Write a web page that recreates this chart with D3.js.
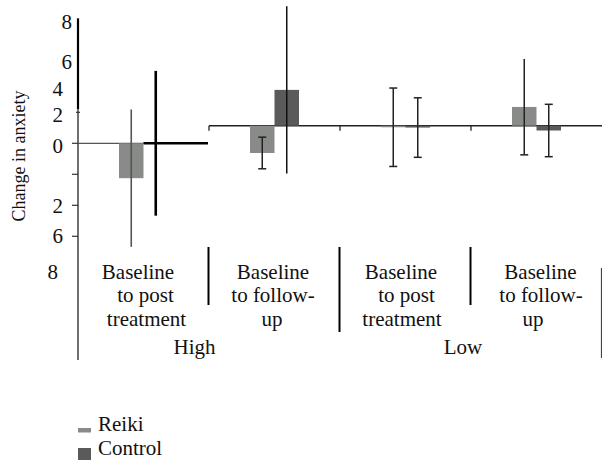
<!DOCTYPE html>
<html>
<head>
<meta charset="utf-8">
<script src="https://cdn.jsdelivr.net/npm/d3@7"></script>
<style>
  html, body { margin: 0; padding: 0; background: #fff; }
  svg { display: block; }
</style>
</head>
<body>
<svg id="chart" width="602" height="463" font-family="'Liberation Serif', 'DejaVu Serif', serif"></svg>
<script>
// ---------------- data ----------------
const groups = ["High-post", "High-follow", "Low-post", "Low-follow"];
const groupLabelLines = [
  ["Baseline", "to post", "treatment"],
  ["Baseline", "to follow-", "up"],
  ["Baseline", "to post", "treatment"],
  ["Baseline", "to follow-", "up"]
];
const anxietyLevels = ["High", "Low"];
const series = ["Reiki", "Control"];
const reikiMean   = [-2.25, -1.76, -0.1, 1.21];
const reikiErr    = [4.43, 1.02, 2.53, 3.09];
const controlMean = [0.0, 2.31, -0.12, -0.31];
const controlErr  = [4.67, 5.4, 1.92, 1.69];
const yTickValues = [8, 6, 4, 2, 0, -2, -4, -6, -8];
const yTickLabels = ["8", "6", "4", "2", "0", "", "2", "6", "8"];
const yTitle = "Change in anxiety";

// ---------------- layout / style ----------------
const FONT = "'Liberation Serif', 'Times New Roman', 'DejaVu Serif', serif";
const colors = { Reiki: "#898b89", Control: "#5a5a5a" };
const zeroShift = [0, -17.6, -17.6, -17.6];           // baseline of groups 2-4 drawn higher
const tickLabelDy = [3, 12, 8, 3, 3, 0, 1, 0, 5];
const tickLabelX  = [72, 72, 63, 63, 63, 63, 63, 63, 58];
const lineDx = [[-5.5, 2, 3], [-1.5, -1.5, -2.5], [-4.5, 1, -3.5], [4, 4.5, -3.5]];
const levelDx = [-14.5, -8];
const caps = { Reiki: [[0,0],[1,1],[1,1],[0,1]], Control: [[0,0],[0,0],[1,1],[1,1]] };
const errStyle = {
  Reiki:   [{c:"#555", w:1.6}, {c:"#222", w:1.5}, {c:"#222", w:1.5}, {c:"#222", w:1.5}],
  Control: [{c:"#000", w:2.6}, {c:"#111", w:1.5}, {c:"#222", w:1.5}, {c:"#222", w:1.5}]
};

const svg = d3.select("#chart");
const txt = sel => sel.attr("font-family", FONT).attr("fill", "#111");

const x = d3.scaleBand().domain(groups).range([78, 602]);
const bw = x.bandwidth();
const xs = d3.scaleBand().domain(series).range([bw / 2 - 24.5, bw / 2 + 24.5]);
const y = d3.scaleLinear().domain([-8, 8]).range([267.3, 19.3]);
const yG = i => (v => y(v) + zeroShift[i]);

const data = groups.map((g, i) => ({
  g, i,
  vals: [
    { s: "Reiki", m: reikiMean[i], e: reikiErr[i] },
    { s: "Control", m: controlMean[i], e: controlErr[i] }
  ]
}));

// ---- y axis ----
const axX = 78;
svg.append("line").attr("x1", axX).attr("x2", axX)
  .attr("y1", y(8) - 1).attr("y2", y(2.2))
  .attr("stroke", "#000").attr("stroke-width", 2.2);
svg.append("line").attr("x1", axX).attr("x2", axX)
  .attr("y1", y(2.2)).attr("y2", 360)
  .attr("stroke", "#333").attr("stroke-width", 1.4);

[2, 0, -2, -4, -6].forEach(v => {
  svg.append("line").attr("x1", v === 2 ? axX - 2 : axX - 6).attr("x2", axX + (v === 2 ? 2 : 0))
    .attr("y1", y(v)).attr("y2", y(v)).attr("stroke", "#333").attr("stroke-width", 1.2);
});

yTickValues.forEach((v, k) => {
  svg.append("text").call(txt)
    .attr("x", tickLabelX[k]).attr("y", y(v) + tickLabelDy[k])
    .attr("text-anchor", "end").attr("dominant-baseline", "central")
    .attr("font-size", 21).text(yTickLabels[k]);
});

svg.append("text").call(txt)
  .attr("transform", `translate(25,156) rotate(-90)`)
  .attr("text-anchor", "middle").attr("font-size", 18)
  .text(yTitle);

// ---- baselines ----
const g0 = groups[0];
svg.append("line").attr("x1", x(g0)).attr("x2", x(g0) + bw - 1)
  .attr("y1", yG(0)(0)).attr("y2", yG(0)(0)).attr("stroke", "#555").attr("stroke-width", 1.2);
svg.append("line").attr("x1", x(g0) + bw / 2).attr("x2", x(g0) + bw - 1)
  .attr("y1", yG(0)(0)).attr("y2", yG(0)(0)).attr("stroke", "#000").attr("stroke-width", 2.4);
svg.append("line").attr("x1", x(groups[1])).attr("x2", 602)
  .attr("y1", yG(1)(0)).attr("y2", yG(1)(0)).attr("stroke", "#222").attr("stroke-width", 1.5);
groups.slice(1).forEach(g => {
  svg.append("line").attr("x1", x(g)).attr("x2", x(g))
    .attr("y1", yG(1)(0)).attr("y2", yG(1)(0) + 5).attr("stroke", "#222").attr("stroke-width", 1.3);
});

// ---- bars ----
const gg = svg.selectAll("g.grp").data(data).join("g").attr("class", "grp")
  .attr("transform", d => `translate(${x(d.g)},0)`);

gg.each(function(d) {
  const sc = yG(d.i);
  const sel = d3.select(this);
  d.vals.forEach(v => {
    const h = Math.abs(sc(v.m) - sc(0));
    if (h > 0.5) {
      sel.append("rect")
        .attr("x", xs(v.s)).attr("width", xs.bandwidth())
        .attr("y", Math.min(sc(v.m), sc(0))).attr("height", Math.max(h, 1.5))
        .attr("fill", colors[v.s]);
    }
  });
  d.vals.forEach(v => {
    const cx = xs(v.s) + xs.bandwidth() / 2;
    const st = errStyle[v.s][d.i];
    const cp = caps[v.s][d.i];
    const top = sc(v.m + v.e), bot = sc(v.m - v.e);
    sel.append("line").attr("x1", cx).attr("x2", cx).attr("y1", top).attr("y2", bot)
      .attr("stroke", st.c).attr("stroke-width", st.w);
    if (cp[0]) sel.append("line").attr("x1", cx - 4).attr("x2", cx + 4).attr("y1", top).attr("y2", top)
      .attr("stroke", st.c).attr("stroke-width", 1.5);
    if (cp[1]) sel.append("line").attr("x1", cx - 4).attr("x2", cx + 4).attr("y1", bot).attr("y2", bot)
      .attr("stroke", st.c).attr("stroke-width", 1.5);
  });
});

// ---- category axis ----
const catTop = 247;
groups.forEach((g, i) => {
  if (i < groups.length - 1) {
    const sx = x(g) + bw - 0.5;
    svg.append("line").attr("x1", sx).attr("x2", sx)
      .attr("y1", catTop).attr("y2", i === 1 ? 332 : 305)
      .attr("stroke", "#000").attr("stroke-width", 2);
  }
  groupLabelLines[i].forEach((t, k) => {
    svg.append("text").call(txt)
      .attr("x", x(g) + bw / 2 + lineDx[i][k]).attr("y", 279 + k * 23.3)
      .attr("text-anchor", "middle").attr("font-size", 21).text(t);
  });
});
svg.append("line").attr("x1", 601.5).attr("x2", 601.5).attr("y1", 268).attr("y2", 358)
  .attr("stroke", "#444").attr("stroke-width", 1.2);

anxietyLevels.forEach((lv, k) => {
  const cx = (x(groups[k * 2]) + x(groups[k * 2 + 1]) + bw) / 2;
  svg.append("text").call(txt).attr("x", cx + levelDx[k]).attr("y", 354)
    .attr("text-anchor", "middle").attr("font-size", 21).text(lv);
});

// ---- legend ----
const legend = [
  { s: "Reiki", ry: 428, rh: 4.5, ty: 431 },
  { s: "Control", ry: 448, rh: 12, ty: 455 }
];
legend.forEach(l => {
  svg.append("rect").attr("x", 78).attr("y", l.ry).attr("width", 13).attr("height", l.rh)
    .attr("fill", colors[l.s]);
  svg.append("text").call(txt).attr("x", 98).attr("y", l.ty).attr("font-size", 21).text(l.s);
});
</script>
</body>
</html>
